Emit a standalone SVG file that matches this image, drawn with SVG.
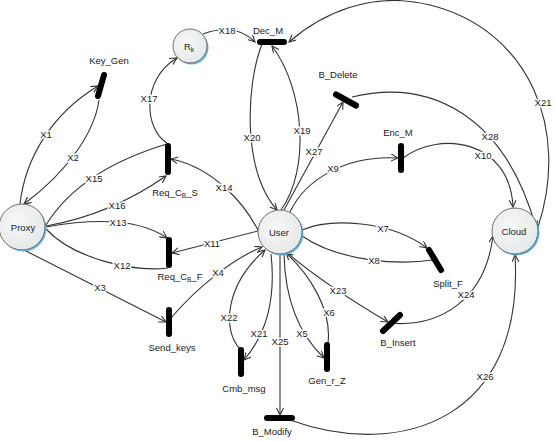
<svg xmlns="http://www.w3.org/2000/svg" width="555" height="442" viewBox="0 0 555 442">
<style>
.e{fill:none;stroke:#333;stroke-width:1.1;marker-end:url(#ah)}
.n{fill:none;stroke:#333;stroke-width:1.1}
.bar{stroke:#000;stroke-width:6;stroke-linecap:round}
.sh{fill:#5fb4e4}
.pl{fill:url(#g);stroke:#6d6d6d;stroke-width:1}
text{font-family:"Liberation Sans",Arial,sans-serif;font-size:9.5px;fill:#1a1a1a;text-anchor:middle}
.lb{stroke:#fff;stroke-width:3;paint-order:stroke;stroke-linejoin:round}
.sub{font-size:6.5px}
</style>
<defs>
<radialGradient id="g" cx="0.4" cy="0.4" r="0.7">
<stop offset="0" stop-color="#f7f8f8"/>
<stop offset="1" stop-color="#e4e7e7"/>
</radialGradient>
<marker id="ah" markerUnits="userSpaceOnUse" markerWidth="10" markerHeight="10" refX="7" refY="3.5" orient="auto">
<path d="M0,0 L7,3.5 L0,7" fill="none" stroke="#333" stroke-width="1.1"/>
</marker>
</defs>

<g id="connectors">
<path class="e" d="M20 204 C25 160 50 115 98 86"/>
<path class="e" d="M99 100 C95 130 70 170 24 204"/>
<path class="n" d="M167 144 Q80 170 46 225"/>
<path class="e" d="M46 226 Q110 215 166 176"/>
<path class="e" d="M46 227 Q130 212 167 238"/>
<path class="n" d="M168 268 C135 272 75 260 46 229"/>
<path class="e" d="M24 250 L166 322"/>
<path class="e" d="M167 143 C145 130 140 80 177 58"/>
<path class="e" d="M203 34 Q235 22 255 42"/>
<path class="e" d="M262 44 C246 85 242 170 277 210"/>
<path class="e" d="M281 210 C310 170 305 90 272 46"/>
<path class="e" d="M284 210 L343 102"/>
<path class="e" d="M290 212 C305 180 345 155 398 158"/>
<path class="e" d="M403 158 C440 130 510 140 513 207"/>
<path class="e" d="M352 97 C430 78 505 115 536 228"/>
<path class="e" d="M538 227 C570 130 530 30 430 5 C370 -10 320 15 289 42"/>
<path class="e" d="M258 230 C245 205 215 168 171 159"/>
<path class="e" d="M258 231 L172 253"/>
<path class="e" d="M171 318 C195 290 230 260 262 247"/>
<path class="e" d="M240 349 C222 330 225 285 265 250"/>
<path class="e" d="M271 254 C275 290 270 330 244 360"/>
<path class="e" d="M280 255 L280 415"/>
<path class="e" d="M284 254 C285 300 300 335 324 358"/>
<path class="e" d="M328 343 C332 310 310 275 286 253"/>
<path class="e" d="M286 252 Q325 285 388 322"/>
<path class="e" d="M302 230 C330 218 390 220 427 248"/>
<path class="n" d="M433 260 C400 265 340 262 302 236"/>
<path class="e" d="M388 323 C440 328 485 300 493 236"/>
<path class="e" d="M290 420 C400 460 525 420 515 255"/>

<text class="lb" x="46" y="138">X1</text>
<text class="lb" x="73" y="161">X2</text>
<text class="lb" x="94" y="182">X15</text>
<text class="lb" x="117" y="209">X16</text>
<text class="lb" x="118" y="226">X13</text>
<text class="lb" x="122" y="269">X12</text>
<text class="lb" x="100" y="291">X3</text>
<text class="lb" x="149" y="102">X17</text>
<text class="lb" x="227" y="34">X18</text>
<text class="lb" x="252" y="141">X20</text>
<text class="lb" x="302" y="134">X19</text>
<text class="lb" x="314" y="155">X27</text>
<text class="lb" x="333" y="172">X9</text>
<text class="lb" x="490" y="140">X28</text>
<text class="lb" x="543" y="106">X21</text>
<text class="lb" x="483" y="159">X10</text>
<text class="lb" x="224" y="191">X14</text>
<text class="lb" x="212" y="247">X11</text>
<text class="lb" x="218" y="276">X4</text>
<text class="lb" x="383" y="232">X7</text>
<text class="lb" x="374" y="264">X8</text>
<text class="lb" x="338" y="294">X23</text>
<text class="lb" x="466" y="298">X24</text>
<text class="lb" x="229" y="321">X22</text>
<text class="lb" x="259" y="337">X21</text>
<text class="lb" x="280" y="345">X25</text>
<text class="lb" x="302" y="337">X5</text>
<text class="lb" x="329" y="316">X6</text>
<text class="lb" x="485" y="380">X26</text>
</g>

<g id="Proxy"><circle class="sh" cx="23.5" cy="228.5" r="23"/><circle class="pl" cx="22" cy="227" r="23"/><text x="23" y="231">Proxy</text></g>
<g id="Rk"><circle class="sh" cx="191.5" cy="47.5" r="17"/><circle class="pl" cx="190" cy="46" r="17"/><text x="189" y="50">R<tspan class="sub" dy="2">k</tspan></text></g>
<g id="User"><circle class="sh" cx="281.5" cy="233.5" r="22"/><circle class="pl" cx="280" cy="232" r="22"/><text x="279" y="236">User</text></g>
<g id="Cloud"><circle class="sh" cx="516.5" cy="232.5" r="23"/><circle class="pl" cx="515" cy="231" r="23"/><text x="514" y="235">Cloud</text></g>

<g id="Key_Gen"><line class="bar" x1="104" y1="75" x2="98" y2="96"/><text x="109" y="64">Key_Gen</text></g>
<g id="Dec_M"><line class="bar" x1="260" y1="42" x2="284" y2="42"/><text x="268" y="34">Dec_M</text></g>
<g id="B_Delete"><line class="bar" x1="336" y1="94.5" x2="356" y2="105.5"/><text x="338" y="78">B_Delete</text></g>
<g id="Enc_M"><line class="bar" x1="401" y1="146" x2="401" y2="170"/><text x="398" y="136">Enc_M</text></g>
<g id="Req_CB_S"><line class="bar" x1="168" y1="146" x2="168" y2="172"/><text x="175" y="196">Req_C<tspan class="sub" dy="1.5">B</tspan><tspan dy="-1.5">_S</tspan></text></g>
<g id="Req_CB_F"><line class="bar" x1="169" y1="240" x2="169" y2="265"/><text x="180" y="280">Req_C<tspan class="sub" dy="1.5">B</tspan><tspan dy="-1.5">_F</tspan></text></g>
<g id="Split_F"><line class="bar" x1="429" y1="250" x2="441" y2="270"/><text x="448" y="287">Split_F</text></g>
<g id="Send_keys"><line class="bar" x1="169" y1="310" x2="169" y2="334"/><text x="172" y="351">Send_keys</text></g>
<g id="Cmb_msg"><line class="bar" x1="241" y1="350" x2="241" y2="374"/><text x="244" y="392">Cmb_msg</text></g>
<g id="Gen_r_Z"><line class="bar" x1="327" y1="345" x2="327" y2="369"/><text x="327" y="384">Gen_r_Z</text></g>
<g id="B_Modify"><line class="bar" x1="267" y1="418" x2="292" y2="418"/><text x="272" y="435">B_Modify</text></g>
<g id="B_Insert"><line class="bar" x1="383" y1="331" x2="400" y2="315"/><text x="398" y="346">B_Insert</text></g>
</svg>
